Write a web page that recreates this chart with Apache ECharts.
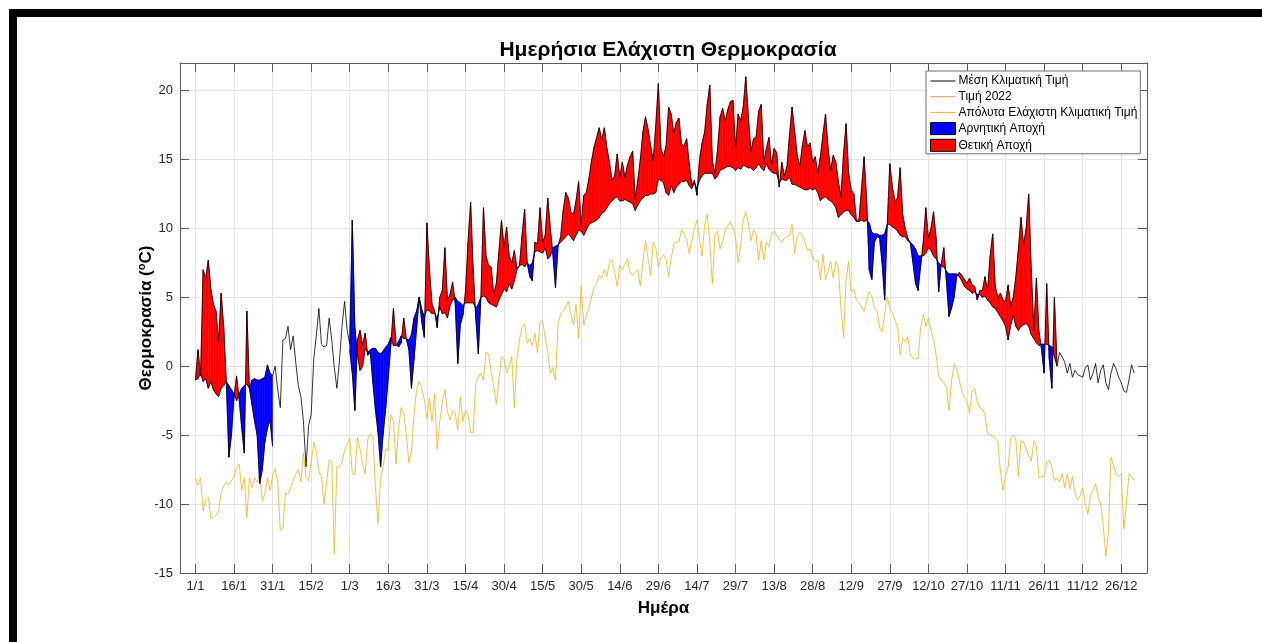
<!DOCTYPE html>
<html>
<head>
<meta charset="utf-8">
<script src="https://cdn.jsdelivr.net/npm/echarts@6/dist/echarts.min.js"></script>
<style>
  html, body { margin: 0; padding: 0; background: #fff; }
  #chart { width: 1262px; height: 642px; }
</style>
</head>
<body>
<div id="chart"></div>
<script>
// day ticks (leap-year calendar, every 15 days from 1/1)
const tickDays = [1, 16, 31, 46, 61, 76, 91, 106, 121, 136, 151, 166, 181, 196, 211, 226, 241, 256, 271, 286, 301, 316, 331, 346, 361];
const tickLabels = ['1/1', '16/1', '31/1', '15/2', '1/3', '16/3', '31/3', '15/4', '30/4', '15/5', '30/5', '14/6', '29/6',
  '14/7', '29/7', '13/8', '28/8', '12/9', '27/9', '12/10', '27/10', '11/11', '26/11', '11/12', '26/12'];

// mean climatic daily minimum, day 1..366
const meanClim = [
  -1.0, -0.9, -0.5, -1.1, -0.9, -1.6, -1.1, -1.7, -2.0, -2.2,
  -1.6, -1.4, -1.1, -1.4, -1.7, -2.0, -2.5, -2.0, -1.6, -1.4,
  -1.3, -1.6, -1.0, -0.9, -1.0, -1.0, -0.9, -0.8, 0.1, -0.5,
  -0.7,
  0.0, -1.7, -3.0, 1.9, 2.0, 2.9, 1.2, 2.2, 0.3, -1.4,
  -2.2, -4.0, -7.3, -4.3, -3.5, 0.5, 2.2, 4.2, 1.6, 1.4,
  1.5, 3.5, 1.9, -0.1, -1.6, 0.4, 2.9, 4.7, 2.6,
  1.6, 10.6, 2.8, 0.8, -0.3, 0.0, 1.3, 1.0, 1.2, 1.3,
  1.3, 1.0, 0.9, 1.1, 1.4, 1.6, 2.1, 1.5, 1.5, 1.8,
  2.2, 2.0, 2.0, 1.9, 2.3, 3.5, 4.0, 5.0, 4.1, 3.6,
  4.1, 4.0, 3.8, 3.9, 3.4, 4.3, 3.8, 3.9, 3.5, 4.4,
  4.8, 5.0, 4.7, 4.6, 4.4, 4.6, 4.6, 4.6, 4.6, 4.2,
  4.5, 5.0, 5.1, 5.0, 4.6, 4.5, 4.4, 4.3, 4.8, 5.2,
  5.6, 5.4, 6.0, 5.6, 6.2, 7.0, 7.3, 7.4, 7.2, 7.5,
  7.3, 7.5, 8.3, 8.4, 8.3, 8.2, 8.6, 7.8, 8.0, 8.6,
  8.7, 8.8, 9.0, 9.2, 9.4, 9.6, 9.4, 9.1, 9.5, 9.9,
  9.8, 9.5, 9.9, 10.3, 10.4, 10.5, 10.6, 10.8, 11.1, 11.2,
  11.5, 11.8, 12.0, 12.2, 12.3, 12.0, 12.0, 12.1, 12.0, 11.9,
  11.8, 11.3, 11.7, 12.0, 12.2, 12.4, 12.4, 12.5, 12.5, 12.6,
  13.6, 13.5, 13.3, 12.6, 12.4, 13.1, 12.6, 13.0, 13.2, 13.4,
  13.4, 13.5, 13.1, 12.9, 13.3, 12.9, 13.5, 13.8, 14.0, 14.0,
  14.0, 14.0, 13.6, 13.8, 14.2, 14.3, 14.4, 14.5, 14.5, 14.4,
  14.2, 14.4, 14.3, 14.6, 14.5, 14.4, 14.4, 14.2, 14.4, 14.7,
  14.4, 14.2, 14.7, 14.3, 14.1, 14.0, 14.0, 13.3, 13.6, 13.5,
  13.5, 13.7, 13.2, 13.2, 13.1, 13.0, 12.9, 12.8, 12.8, 12.9,
  12.8, 12.9, 12.6, 12.0, 12.2, 12.3, 12.1, 12.0, 11.8, 11.5,
  10.8, 11.0, 11.2, 11.3, 11.3, 11.0, 10.8, 10.5, 10.5, 10.6,
  10.5, 10.6, 10.4, 9.7, 9.6, 9.6, 9.5, 9.5, 9.6, 10.3,
  10.3, 10.1, 10.0, 9.8, 9.5, 9.4, 9.4, 9.1, 9.0, 8.8,
  8.5, 8.0, 8.0, 8.0, 8.2, 8.6, 8.4, 8.0, 7.8, 7.5,
  7.3, 7.2, 6.9, 6.7, 6.7, 6.7, 6.7, 6.5, 6.2, 5.8,
  5.6, 5.5, 5.3, 5.4, 5.2, 5.2, 5.0, 5.1, 4.8, 4.6,
  4.3, 4.2, 3.9, 3.6, 3.3, 2.9, 1.9, 3.0, 3.7, 2.9,
  2.6, 2.9, 3.0, 3.1, 2.9, 2.3, 2.0, 1.7, 1.5, 1.6,
  1.6, 1.6, 1.5, 1.4, 0.7, 0.0, 1.0, 0.7, 0.3, -0.5,
  0.2, -0.8, -0.3, -0.6, -0.7, -0.8, -0.1, 0.1, -1.0, -0.5,
  0.2, -1.2, -0.3, 0.1, -1.2, -1.7, -0.5, 0.2, -0.2, -0.8,
  -1.2, -1.8, -1.9, -1.0, 0.1, -0.5
];

// 2022 daily minimum: January (days 1..31)
const jan2022 = [
  -1.0, 1.2, -0.7, 7.0, 6.4, 7.7, 5.6, 4.5, 4.0, 1.8,
  5.3, 2.8, -1.1, -6.6, -5.0, -2.2, -0.7, -2.4, -4.5, -6.3,
  4.0, -1.6, -2.8, -4.0, -5.0, -8.5, -7.5, -5.5, -4.5, -3.9,
  -5.8
];
// 2022 daily minimum: days 61..336 (1/3 .. 1/12)
const marNov2022 = [
  1.2, -0.5, -3.2, 1.9, 2.6, 1.5, 2.4, 0.8, 1.0, -1.2,
  -3.2, -4.8, -7.3, -4.9, -3.0, -0.8, 1.6, 4.2, 1.6, 1.4,
  1.7, 3.5, 2.0, 1.2, -1.6, 0.5, 2.7, 5.0, 3.2, 2.1,
  10.4, 7.0, 4.5, 4.0, 2.8, 5.0, 5.5, 8.6, 4.8, 5.2,
  6.1, 4.6, 0.2, 3.0, 3.7, 5.4, 9.0, 11.9, 7.0, 3.5,
  0.9, 5.0, 11.5, 8.0, 7.3, 7.2, 5.2, 6.0, 8.3, 10.6,
  8.6, 10.1, 8.0, 7.5, 8.4, 7.1, 7.3, 9.5, 11.4, 7.5,
  6.5, 6.2, 9.0, 8.9, 11.5, 9.0, 9.5, 12.2, 10.0, 8.1,
  5.7, 8.7, 9.4, 11.3, 12.6, 12.2, 11.2, 11.0, 12.0, 13.4,
  10.2, 12.4, 12.6, 13.6, 14.9, 15.9, 16.6, 17.3, 16.4, 17.3,
  15.8, 14.8, 13.5, 13.8, 15.4, 13.7, 14.8, 13.7, 14.6, 15.2,
  15.6, 12.1, 13.5, 15.0, 17.0, 18.1, 17.2, 16.0, 14.9, 17.5,
  20.5, 15.8, 15.2, 16.0, 18.8, 18.3, 16.9, 17.7, 18.0, 16.1,
  16.0, 16.5, 14.7, 13.1, 13.5, 12.4, 15.0, 16.2, 17.0, 19.0,
  20.4, 14.9, 14.0, 15.7, 18.1, 18.7, 17.8, 18.6, 19.2, 19.3,
  15.8, 18.3, 17.8, 18.8, 21.0, 18.1, 15.6, 16.5, 16.6, 18.5,
  19.0, 14.8, 15.8, 16.6, 14.6, 15.8, 15.5, 13.0, 14.8, 13.8,
  14.5, 16.8, 18.8, 17.0, 15.3, 14.5, 16.0, 17.1, 15.9, 16.2,
  14.8, 15.2, 14.0, 15.2, 16.8, 18.3, 15.8, 14.2, 15.3, 14.8,
  13.4, 12.3, 15.4, 17.6, 14.0, 12.8, 12.5, 10.6, 10.6, 12.9,
  15.2, 12.0, 7.0, 6.3, 9.0, 9.4, 9.3, 7.5, 4.8, 10.3,
  14.7, 13.0, 12.0, 12.2, 14.4, 11.0, 10.0, 9.3, 8.9, 7.5,
  6.0, 5.5, 7.3, 9.0, 11.5, 9.3, 10.0, 11.2, 9.3, 5.4,
  7.4, 8.6, 6.2, 3.6, 4.2, 5.0, 6.5, 6.8, 6.6, 6.3,
  6.0, 6.4, 5.9, 5.8, 4.8, 5.5, 5.5, 6.5, 5.5, 8.0,
  9.6, 5.8, 5.0, 5.3, 4.8, 4.7, 5.9, 4.4, 5.0, 6.5,
  8.5, 10.8, 8.8, 10.0, 12.5, 7.0, 2.6, 6.4, 2.5, 1.2,
  -0.5, 6.0, 0.5, -1.6, 5.0, 0.2
];

// absolute minimum climatic value, day 1..366
const absMin = [
  -8.1, -8.6, -8.1, -10.5, -9.7, -9.5, -11.0, -11.0, -10.8, -10.6,
  -9.2, -8.7, -8.4, -8.6, -8.3, -8.0, -7.4, -7.1, -9.0, -8.1,
  -11.0, -8.1, -8.8, -8.1, -8.4, -7.8, -9.8, -9.2, -8.1, -9.0,
  -8.0, -7.4, -8.4, -11.9, -11.8, -9.2, -9.3, -8.9, -8.3, -7.8,
  -7.5, -8.4, -6.3, -8.0, -8.3, -7.0, -5.5, -6.2, -7.6, -8.0,
  -10.0, -8.5, -6.8, -6.9, -13.6, -7.3, -7.3, -7.0, -6.1, -5.7,
  -5.2, -7.8, -7.9, -5.2, -6.0, -7.1, -7.8, -5.3, -4.9, -5.1,
  -8.8, -11.4, -8.2, -7.2, -6.0, -6.1, -3.5, -4.0, -7.1, -4.5,
  -3.0, -3.4, -5.0, -7.0, -6.2, -3.5, -1.7, -1.1, -1.6, -2.4,
  -3.8, -2.3, -4.0, -2.0, -6.0, -4.0, -2.6, -1.7, -3.3, -3.9,
  -3.2, -3.4, -4.6, -2.2, -4.0, -3.2, -3.5, -4.8, -4.8, -1.2,
  -0.8, -0.5, -1.0, 1.0, 0.9, -0.5, -1.5, -2.7, -1.0, 0.7,
  0.5, -0.5, 0.0, 0.7, -3.0, 0.5, 1.9, 2.8, 3.1, 1.7,
  2.0, 1.5, 2.4, 1.0, 3.2, 3.3, 2.1, 1.0, -0.5, -0.1,
  -1.0, 3.0, 3.8, 4.0, 4.3, 4.7, 3.8, 3.0, 4.5, 2.0,
  5.8, 3.0, 3.7, 4.2, 5.0, 5.7, 6.0, 6.6, 6.4, 7.0,
  6.5, 7.6, 7.7, 6.8, 5.8, 7.3, 7.0, 7.4, 7.8, 6.8,
  6.6, 6.8, 7.0, 5.8, 7.6, 9.1, 7.8, 6.6, 9.0, 8.6,
  7.2, 7.9, 8.1, 7.7, 6.5, 7.8, 8.9, 9.0, 9.0, 9.9,
  9.6, 9.2, 8.2, 9.1, 10.0, 10.6, 9.2, 8.0, 10.3, 11.0,
  9.0, 6.0, 9.5, 9.8, 8.5, 9.1, 9.8, 10.2, 10.5, 10.1,
  9.4, 7.5, 8.7, 10.6, 11.2, 10.4, 9.1, 9.9, 9.6, 7.7,
  9.1, 7.7, 9.0, 8.7, 9.6, 9.8, 9.5, 9.2, 9.0, 9.3,
  9.4, 9.5, 10.3, 8.2, 9.4, 9.7, 9.5, 9.0, 8.4, 8.5,
  7.9, 7.6, 7.7, 6.3, 8.1, 6.3, 6.9, 7.6, 6.4, 7.6,
  7.1, 4.2, 2.1, 6.3, 7.6, 5.4, 5.6, 4.8, 4.6, 4.3,
  4.0, 4.8, 5.4, 5.1, 4.2, 4.1, 2.8, 2.5, 3.8, 5.0,
  4.2, 3.9, 3.3, 2.9, 0.8, 2.0, 1.8, 2.1, 0.8, 0.6,
  0.5, 0.6, 2.8, 3.8, 2.9, 3.5, 2.6, 2.0, 0.8, -0.7,
  -1.0, -1.2, -1.5, -3.2, -1.1, 0.2, -0.2, -1.0, -1.8, -2.2,
  -2.5, -3.4, -1.8, -1.6, -2.6, -3.0, -3.1, -3.5, -4.9, -4.9,
  -5.1, -5.2, -5.5, -7.6, -9.0, -7.9, -7.3, -5.2, -5.0, -5.3,
  -8.0, -5.4, -5.5, -6.0, -6.5, -6.9, -5.4, -5.8, -8.1, -8.0,
  -8.0, -7.0, -6.8, -7.3, -8.3, -8.1, -8.4, -7.8, -8.8, -7.8,
  -8.9, -8.0, -9.2, -9.7, -9.4, -8.8, -10.0, -10.7, -9.4, -9.0,
  -8.5, -9.5, -10.0, -11.6, -13.8, -12.0, -6.6, -7.2, -7.8, -8.0,
  -7.8, -11.8, -10.0, -7.8, -8.0, -8.3
];

const FONT = 'Liberation Sans, Arial, Helvetica, sans-serif';
const AXIS_COLOR = '#5a5a5a';
const GRID_COLOR = '#e3e3e3';

// x axis runs from day -5 to day 371 like the original figure
const xFirst = -5;
const xLast = 371;
const axisDays = [];
for (let d = xFirst; d <= xLast; d++) axisDays.push(d);

const val2022 = jan2022.concat(new Array(29).fill(null), marNov2022, new Array(30).fill(null));

function onAxis(values) {
  return axisDays.map(d => (d >= 1 && d <= values.length && values[d - 1] != null) ? values[d - 1] : null);
}

// one item per day pair where both 2022 and mean exist
const pairData = [];
for (let d = 1; d < val2022.length; d++) {
  if (val2022[d - 1] != null && val2022[d] != null) {
    pairData.push([d - xFirst, meanClim[d - 1], val2022[d - 1], meanClim[d], val2022[d]]);
  }
}

function isTickIndex(index) {
  return tickDays.indexOf(axisDays[index]) !== -1;
}

function fillBetween(sign, color) {
  return function (params, api) {
    const i = api.value(0);
    const m0 = api.value(1), v0 = api.value(2), m1 = api.value(3), v1 = api.value(4);
    const pm0 = api.coord([i, m0]), pv0 = api.coord([i, v0]);
    const pm1 = api.coord([i + 1, m1]), pv1 = api.coord([i + 1, v1]);
    const d0 = (v0 - m0) * sign, d1 = (v1 - m1) * sign;
    let pts = null;
    if (d0 >= 0 && d1 >= 0) {
      pts = [pm0, pm1, pv1, pv0];
    } else if (d0 > 0 || d1 > 0) {
      const t = d0 / (d0 - d1);
      const pc = [pm0[0] + t * (pm1[0] - pm0[0]), pm0[1] + t * (pm1[1] - pm0[1])];
      pts = d0 > 0 ? [pm0, pc, pv0] : [pc, pm1, pv1];
    }
    if (!pts) return null;
    return {
      type: 'polygon',
      shape: { points: pts },
      style: { fill: color, stroke: color, lineWidth: 0.6 }
    };
  };
}

const lineIcon = 'path://M0,0H25V1H0Z';

const chart = echarts.init(document.getElementById('chart'), null, { renderer: 'canvas' });

const xAxisBase = {
  type: 'category',
  data: axisDays,
  boundaryGap: false,
  axisLine: { show: true, onZero: false, lineStyle: { color: AXIS_COLOR, width: 1 } },
  axisTick: { show: true, inside: true, length: 9, interval: isTickIndex, lineStyle: { color: AXIS_COLOR } }
};

chart.setOption({
  animation: false,
  backgroundColor: '#fff',
  title: {
    text: 'Ημερήσια Ελάχιστη Θερμοκρασία',
    left: 663,
    top: 35,
    textAlign: 'center',
    textStyle: { fontFamily: FONT, fontSize: 21, fontWeight: 'bold', color: '#000' }
  },
  legend: {
    orient: 'vertical',
    left: 926,
    top: 71,
    padding: [4, 3, 2, 4],
    itemGap: 3.7,
    itemWidth: 25,
    itemHeight: 12,
    selectedMode: false,
    backgroundColor: '#fff',
    borderColor: '#6e6e6e',
    borderWidth: 1,
    textStyle: { fontFamily: FONT, fontSize: 12, color: '#000', padding: [0, 0, 0, -2] },
    data: [
      { name: 'Μέση Κλιματική Τιμή', icon: lineIcon, itemStyle: { color: '#000', borderWidth: 0 } },
      { name: 'Τιμή 2022', icon: lineIcon, itemStyle: { color: '#ff8a5c', borderWidth: 0 } },
      { name: 'Απόλυτα Ελάχιστη Κλιματική Τιμή', icon: lineIcon, itemStyle: { color: '#EDB120', borderWidth: 0 } },
      { name: 'Αρνητική Αποχή', icon: 'rect', itemStyle: { color: '#0000ff', borderColor: '#000', borderWidth: 1 } },
      { name: 'Θετική Αποχή', icon: 'rect', itemStyle: { color: '#ff0000', borderColor: '#000', borderWidth: 1 } }
    ]
  },
  grid: { left: 180, top: 63, width: 967, height: 510, containLabel: false },
  xAxis: [
    Object.assign({}, xAxisBase, {
      position: 'bottom',
      name: 'Ημέρα',
      nameLocation: 'middle',
      nameGap: 27,
      nameTextStyle: { fontFamily: FONT, fontSize: 17, fontWeight: 'bold', color: '#000' },
      axisLabel: {
        interval: isTickIndex,
        margin: 7,
        fontFamily: FONT,
        fontSize: 13,
        color: '#262626',
        formatter: v => {
          const k = tickDays.indexOf(Number(v));
          return k === -1 ? '' : tickLabels[k];
        }
      },
      splitLine: { show: true, interval: isTickIndex, lineStyle: { color: GRID_COLOR, width: 1 } }
    }),
    Object.assign({}, xAxisBase, {
      position: 'top',
      axisLabel: { show: false },
      splitLine: { show: false }
    })
  ],
  yAxis: [
    {
      type: 'value',
      min: -15,
      max: 22,
      interval: 5,
      position: 'left',
      name: '{a|Θερμοκρασία (}{b|o}{a|C)}',
      nameLocation: 'middle',
      nameGap: 24,
      nameMoveOverlap: false,
      nameTextStyle: {
        rich: {
          a: { fontFamily: FONT, fontSize: 17, fontWeight: 'bold', color: '#000', lineHeight: 20 },
          b: { fontFamily: FONT, fontSize: 11, fontWeight: 'bold', color: '#000', verticalAlign: 'top', lineHeight: 20 }
        }
      },
      axisLine: { show: true, onZero: false, lineStyle: { color: AXIS_COLOR, width: 1 } },
      axisTick: { show: true, inside: true, length: 9, lineStyle: { color: AXIS_COLOR } },
      axisLabel: { margin: 7, fontFamily: FONT, fontSize: 13, color: '#262626', showMaxLabel: false },
      splitLine: { show: true, lineStyle: { color: GRID_COLOR, width: 1 } }
    },
    {
      type: 'value',
      min: -15,
      max: 22,
      interval: 5,
      position: 'right',
      axisLine: { show: true, onZero: false, lineStyle: { color: AXIS_COLOR, width: 1 } },
      axisTick: { show: true, inside: true, length: 9, lineStyle: { color: AXIS_COLOR } },
      axisLabel: { show: false },
      splitLine: { show: false }
    }
  ],
  series: [
    {
      name: 'Απόλυτα Ελάχιστη Κλιματική Τιμή',
      type: 'line',
      data: onAxis(absMin),
      symbol: 'none',
      color: '#EDB120',
      lineStyle: { color: '#EDB120', width: 0.8 },
      z: 2
    },
    {
      name: 'Αρνητική Αποχή',
      type: 'custom',
      renderItem: fillBetween(-1, '#0000ff'),
      data: pairData,
      encode: { x: 0, y: [1, 2, 3, 4] },
      color: '#0000ff',
      clip: true,
      z: 3
    },
    {
      name: 'Θετική Αποχή',
      type: 'custom',
      renderItem: fillBetween(1, '#ff0000'),
      data: pairData,
      encode: { x: 0, y: [1, 2, 3, 4] },
      color: '#ff0000',
      clip: true,
      z: 3
    },
    {
      name: 'Τιμή 2022',
      type: 'line',
      data: onAxis(val2022),
      symbol: 'none',
      color: '#ff8a5c',
      lineStyle: { color: '#000', width: 0.8 },
      z: 4
    },
    {
      name: 'Μέση Κλιματική Τιμή',
      type: 'line',
      data: onAxis(meanClim),
      symbol: 'none',
      color: '#000',
      lineStyle: { color: '#000', width: 0.8 },
      z: 5
    }
  ],
  graphic: [
    { type: 'rect', shape: { x: 9, y: 9, width: 1253, height: 8 }, style: { fill: '#000' }, silent: true },
    { type: 'rect', shape: { x: 9, y: 9, width: 8, height: 633 }, style: { fill: '#000' }, silent: true }
  ]
});
</script>
</body>
</html>
